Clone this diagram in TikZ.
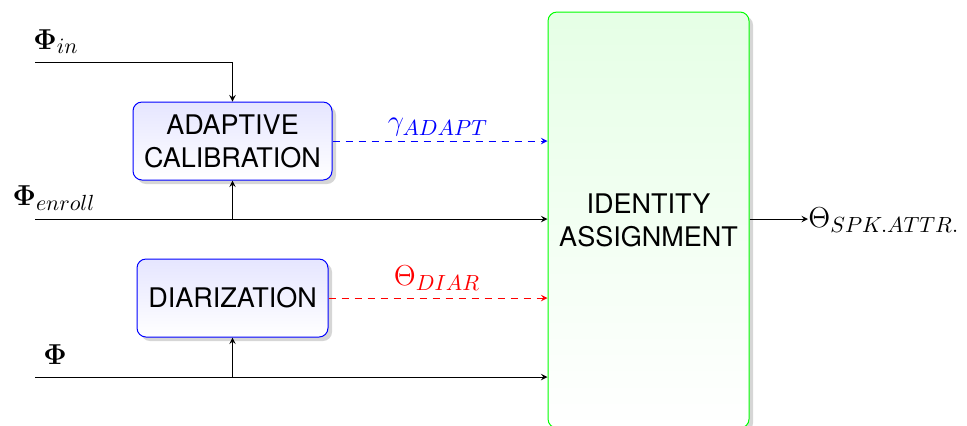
\documentclass[tikz,border=0pt]{standalone}
\usepackage{amsmath}
\usepackage[no-math]{fontspec}
\setsansfont{TeX Gyre Heros}
\usetikzlibrary{shadows,arrows}
\begin{document}
\begin{tikzpicture}[x=0.5pt,y=-0.5pt,
  arr/.style={-stealth, line width=0.45pt},
  blockbox/.style={rounded corners=4.5pt, draw=blue, line width=0.5pt,
    top color=blue!10, bottom color=white,
    drop shadow={shadow xshift=2pt, shadow yshift=-2pt, fill=black!20, opacity=0.8},
    font=\sffamily\fontsize{13.5}{16.5}\selectfont, align=center, inner sep=0pt},
  bigbox/.style={rounded corners=4.5pt, draw=green, line width=0.5pt,
    top color=green!10, bottom color=white,
    drop shadow={shadow xshift=2pt, shadow yshift=-2pt, fill=black!20, opacity=0.8},
    font=\sffamily\fontsize{13.5}{16.5}\selectfont, align=center, inner sep=0pt},
  lab/.style={font=\fontsize{15}{18}\selectfont, inner sep=0pt},
  dashline/.style={dash pattern=on 3.5pt off 3pt}]
\useasboundingbox (0,0) rectangle (967,425);

\node[blockbox, minimum width=99.5pt, minimum height=39pt] (adapt) at (232.5,141) {ADAPTIVE\\CALIBRATION};
\node[blockbox, minimum width=95.5pt, minimum height=39pt] (diar) at (232.5,298) {DIARIZATION};
\node[bigbox, minimum width=100.5pt, minimum height=208pt] (ident) at (648.5,220) {IDENTITY\\ASSIGNMENT};

\coordinate (inS) at (35,62);
\coordinate (enS) at (35,219);
\coordinate (phS) at (35,377);

\node[lab, anchor=base] (inL) at (56,49) {$\boldsymbol{\Phi}_{in}$};
\node[lab, anchor=base] (enL) at (54,205) {$\boldsymbol{\Phi}_{enroll}$};
\node[lab, anchor=base] (phL) at (55,364) {$\boldsymbol{\Phi}$};
\node[lab, anchor=base, text=blue] (gaL) at (438,130) {$\gamma_{ADAPT}$};
\node[lab, anchor=base, text=red] (thL) at (437,285) {$\Theta_{DIAR}$};
\node[lab, anchor=base west] (out) at (808,227) {$\Theta_{SPK.ATTR.}$};

\draw[arr] (inS) -| (adapt.north);
\draw[arr] (enS) -- (enS -| ident.west);
\draw[arr] (enS -| adapt.south) -- (adapt.south);
\draw[arr] (phS) -- (phS -| ident.west);
\draw[arr] (phS -| diar.south) -- (diar.south);
\draw[arr, blue, dashline] (adapt.east) -- (adapt.east -| ident.west);
\draw[arr, red, dashline] (diar.east) -- (diar.east -| ident.west);
\draw[arr] (ident.east |- enS) -- (enS -| out.west);
\end{tikzpicture}
\end{document}
